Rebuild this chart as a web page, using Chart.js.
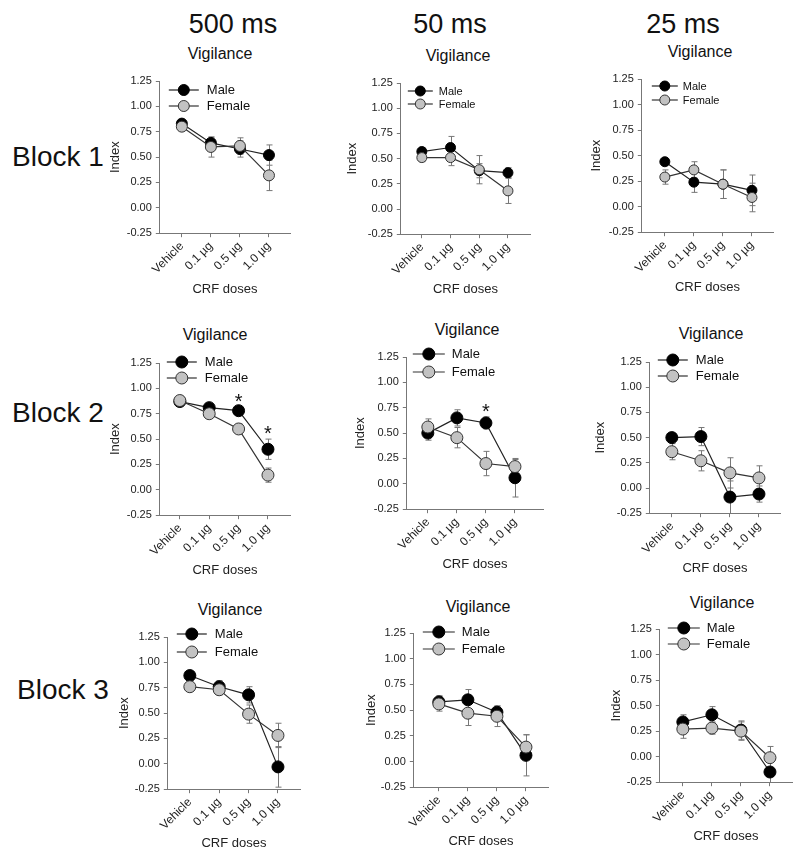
<!DOCTYPE html>
<html>
<head>
<meta charset="utf-8">
<script src="https://cdn.jsdelivr.net/npm/chart.js@4.4.0/dist/chart.umd.min.js"></script>
<style>
  body { margin: 0; background: #fff; }
  #fig { position: relative; width: 800px; height: 861px; font-family: Arial, "Liberation Sans", sans-serif; color: #111; }
  .lbl { position: absolute; white-space: nowrap; transform: translate(-50%, -50%); }
  .blk { position: absolute; white-space: nowrap; transform: translateY(-50%); font-size: 28px; }
  canvas { position: absolute; }
</style>
</head>
<body>
<div id="fig"></div>
<script>
// --- labels ---
const doses = ['Vehicle', '0.1 µg', '0.5 µg', '1.0 µg'];
const yTicks = [-0.25, 0, 0.25, 0.5, 0.75, 1.0, 1.25];
const intervals = ['500 ms', '50 ms', '25 ms'];
const blocks = ['Block 1', 'Block 2', 'Block 3'];
const panelTitle = 'Vigilance';
const xTitle = 'CRF doses';
const yTitle = 'Index';

// --- Block 1 ---
const b1_500_male = [0.83, 0.64, 0.58, 0.52];
const b1_500_maleSem = [0.02, 0.05, 0.08, 0.10];
const b1_500_female = [0.80, 0.60, 0.61, 0.32];
const b1_500_femaleSem = [0.02, 0.10, 0.08, 0.15];

const b1_50_male = [0.57, 0.61, 0.38, 0.36];
const b1_50_maleSem = [0.04, 0.11, 0.07, 0.05];
const b1_50_female = [0.51, 0.51, 0.39, 0.18];
const b1_50_femaleSem = [0.04, 0.08, 0.14, 0.125];

const b1_25_male = [0.44, 0.24, 0.22, 0.16];
const b1_25_maleSem = [0.03, 0.10, 0.14, 0.15];
const b1_25_female = [0.29, 0.36, 0.22, 0.09];
const b1_25_femaleSem = [0.07, 0.08, 0.14, 0.14];

// --- Block 2 ---
const b2_500_male = [0.87, 0.81, 0.78, 0.40];
const b2_500_maleSem = [0.02, 0.03, 0.04, 0.10];
const b2_500_female = [0.88, 0.75, 0.60, 0.145];
const b2_500_femaleSem = [0.02, 0.04, 0.05, 0.07];
const b2_500_sig = [false, false, true, true];

const b2_50_male = [0.50, 0.65, 0.60, 0.06];
const b2_50_maleSem = [0.07, 0.08, 0.06, 0.19];
const b2_50_female = [0.56, 0.455, 0.20, 0.17];
const b2_50_femaleSem = [0.08, 0.10, 0.12, 0.07];
const b2_50_sig = [false, false, true, false];

const b2_25_male = [0.50, 0.51, -0.09, -0.06];
const b2_25_maleSem = [0.03, 0.09, 0.16, 0.08];
const b2_25_female = [0.36, 0.27, 0.15, 0.10];
const b2_25_femaleSem = [0.08, 0.10, 0.15, 0.12];

// --- Block 3 ---
const b3_500_male = [0.87, 0.76, 0.68, -0.03];
const b3_500_maleSem = [0.02, 0.06, 0.08, 0.20];
const b3_500_female = [0.76, 0.73, 0.49, 0.28];
const b3_500_femaleSem = [0.04, 0.05, 0.09, 0.12];

const b3_50_male = [0.58, 0.60, 0.48, 0.06];
const b3_50_maleSem = [0.06, 0.10, 0.06, 0.20];
const b3_50_female = [0.56, 0.47, 0.44, 0.14];
const b3_50_femaleSem = [0.07, 0.12, 0.10, 0.12];

const b3_25_male = [0.34, 0.41, 0.26, -0.15];
const b3_25_maleSem = [0.07, 0.08, 0.09, 0.10];
const b3_25_female = [0.27, 0.28, 0.25, -0.01];
const b3_25_femaleSem = [0.09, 0.06, 0.09, 0.11];

const panels = [
  [b1_500_male, b1_500_maleSem, b1_500_female, b1_500_femaleSem, null],
  [b1_50_male, b1_50_maleSem, b1_50_female, b1_50_femaleSem, null],
  [b1_25_male, b1_25_maleSem, b1_25_female, b1_25_femaleSem, null],
  [b2_500_male, b2_500_maleSem, b2_500_female, b2_500_femaleSem, b2_500_sig],
  [b2_50_male, b2_50_maleSem, b2_50_female, b2_50_femaleSem, b2_50_sig],
  [b2_25_male, b2_25_maleSem, b2_25_female, b2_25_femaleSem, null],
  [b3_500_male, b3_500_maleSem, b3_500_female, b3_500_femaleSem, null],
  [b3_50_male, b3_50_maleSem, b3_50_female, b3_50_femaleSem, null],
  [b3_25_male, b3_25_maleSem, b3_25_female, b3_25_femaleSem, null]
];

// pixel layout of every panel (plot box, first/last category, label spots, legend)
const boxes = [
  {L:160, R:290, T:81,  B:233, c0:182, c3:269, idx:116, crf:289, tx:220, ty:54,  r:5.5, lg:{dx:9, dy:9,  len:30, sp:16, gap:8, fs:13}},
  {L:401, R:530, T:83,  B:234, c0:422, c3:508, idx:353, crf:289, tx:458, ty:56,  r:5,   lg:{dx:7, dy:8,  len:25, sp:13, gap:6, fs:11}},
  {L:642, R:773, T:79,  B:232, c0:665, c3:752, idx:597, crf:287, tx:700, ty:52,  r:5,   lg:{dx:10,dy:7,  len:26, sp:14, gap:5, fs:11}},
  {L:160, R:290, T:363, B:515, c0:180, c3:268, idx:116, crf:570, tx:215, ty:335, r:6,   lg:{dx:7, dy:-1, len:30, sp:16, gap:8, fs:13}},
  {L:407, R:543, T:357, B:509, c0:428, c3:515, idx:361, crf:564, tx:467, ty:330, r:6,   lg:{dx:6, dy:-3, len:32, sp:18, gap:7, fs:13}},
  {L:650, R:780, T:362, B:513, c0:672, c3:759, idx:601, crf:568, tx:711, ty:334, r:6,   lg:{dx:8, dy:-2, len:30, sp:16, gap:8, fs:13}},
  {L:168, R:300, T:637, B:789, c0:190, c3:278, idx:125, crf:843, tx:230, ty:610, r:6,   lg:{dx:9, dy:-3, len:30, sp:18, gap:8, fs:13}},
  {L:414, R:548, T:633, B:787, c0:439, c3:526, idx:372, crf:841, tx:478, ty:607, r:6,   lg:{dx:9, dy:-1, len:32, sp:17, gap:7, fs:13}},
  {L:660, R:792, T:629, B:782, c0:683, c3:770, idx:617, crf:836, tx:722, ty:603, r:6,   lg:{dx:8, dy:-1, len:32, sp:16, gap:7, fs:13}}
];

const FONT = 'Arial, "Liberation Sans", sans-serif';
Chart.defaults.font.family = FONT;
const fig = document.getElementById('fig');

function addText(cls, txt, x, y, size) {
  const d = document.createElement('div');
  d.className = cls;
  d.textContent = txt;
  d.style.left = x + 'px';
  d.style.top = y + 'px';
  if (size) d.style.fontSize = size + 'px';
  fig.appendChild(d);
}

// column headers and row labels
[233, 450, 683].forEach((x, i) => addText('lbl', intervals[i], x, 24, 27));
[157, 413, 690].forEach((y, i) => addText('blk', blocks[i], i === 2 ? 17 : 12, y));

// error bars (drawn under the markers)
const errBars = {
  id: 'errBars',
  beforeDatasetsDraw(chart) {
    const {ctx, chartArea} = chart;
    const xs = chart.scales.x, ys = chart.scales.y;
    ctx.save();
    ctx.strokeStyle = '#777';
    ctx.lineWidth = 1;
    chart.data.datasets.forEach(ds => {
      ds.data.forEach((p, i) => {
        const e = ds.sem[i];
        const x = Math.round(xs.getPixelForValue(p.x)) + 0.5;
        const y1 = ys.getPixelForValue(p.y + e);
        const y2 = Math.min(ys.getPixelForValue(p.y - e), chartArea.bottom);
        ctx.beginPath();
        ctx.moveTo(x, y1); ctx.lineTo(x, y2);
        ctx.moveTo(x - 3, y1); ctx.lineTo(x + 3, y1);
        if (y2 < chartArea.bottom) { ctx.moveTo(x - 3, y2); ctx.lineTo(x + 3, y2); }
        ctx.stroke();
      });
    });
    ctx.restore();
  }
};

// legend inside the plot box, line + marker symbol
const insideLegend = {
  id: 'insideLegend',
  afterDatasetsDraw(chart, args, o) {
    const {ctx, chartArea} = chart;
    ctx.save();
    chart.data.datasets.forEach((ds, k) => {
      const y = chartArea.top + o.dy + k * o.sp;
      const x0 = chartArea.left + o.dx, x1 = x0 + o.len;
      ctx.strokeStyle = ds.borderColor;
      ctx.lineWidth = ds.borderWidth;
      ctx.beginPath(); ctx.moveTo(x0, y); ctx.lineTo(x1, y); ctx.stroke();
      ctx.beginPath();
      ctx.arc((x0 + x1) / 2, y, ds.pointRadius, 0, Math.PI * 2);
      ctx.fillStyle = ds.pointBackgroundColor; ctx.fill();
      ctx.strokeStyle = ds.pointBorderColor; ctx.lineWidth = 1; ctx.stroke();
      ctx.fillStyle = '#111';
      ctx.font = o.fs + 'px ' + FONT;
      ctx.textAlign = 'left';
      ctx.textBaseline = 'middle';
      ctx.fillText(ds.label, x1 + o.gap, y + 0.5);
    });
    ctx.restore();
  }
};

// significance asterisks above the male error bar
const stars = {
  id: 'stars',
  afterDatasetsDraw(chart, args, o) {
    if (!o.sig) return;
    const {ctx} = chart;
    const ds = chart.data.datasets[0];
    ctx.save();
    ctx.fillStyle = '#111';
    ctx.font = '20px ' + FONT;
    ctx.textAlign = 'center';
    ctx.textBaseline = 'alphabetic';
    o.sig.forEach((s, i) => {
      if (!s) return;
      const x = chart.scales.x.getPixelForValue(i);
      const top = chart.scales.y.getPixelForValue(ds.data[i].y + ds.sem[i]);
      ctx.fillText('*', x, top + 1);
    });
    ctx.restore();
  }
};

panels.forEach((p, n) => {
  const b = boxes[n];
  const [male, maleSem, female, femaleSem, sig] = p;
  const step = (b.c3 - b.c0) / 3;
  const xMin = -(b.c0 - b.L) / step;
  const xMax = 3 + (b.R - b.c3) / step;
  const yW = b.L - b.idx + 7.8;      // y scale box width
  const xH = b.crf + 7.8 - b.B;      // x scale box height
  const left = b.L - yW, top = b.T - 14;
  const w = b.R + 14 - left, h = b.B + xH + 2 - top;

  addText('lbl', panelTitle, b.tx, b.ty, 16);

  const cv = document.createElement('canvas');
  cv.width = Math.ceil(w); cv.height = Math.ceil(h);
  cv.style.left = left + 'px'; cv.style.top = top + 'px';
  fig.appendChild(cv);

  new Chart(cv, {
    type: 'line',
    data: {
      datasets: [
        {
          label: 'Male', order: 1,
          data: doses.map((d, i) => ({x: i, y: male[i]})), sem: maleSem,
          borderColor: '#222', borderWidth: 1.2,
          pointRadius: b.r, pointBackgroundColor: '#000', pointBorderColor: '#000', pointBorderWidth: 1,
          clip: false
        },
        {
          label: 'Female', order: 0,
          data: doses.map((d, i) => ({x: i, y: female[i]})), sem: femaleSem,
          borderColor: '#333', borderWidth: 1.2,
          pointRadius: b.r, pointBackgroundColor: '#c2c2c2', pointBorderColor: '#333', pointBorderWidth: 1,
          clip: false
        }
      ]
    },
    options: {
      responsive: false,
      animation: false,
      layout: { padding: { left: 0, top: 14, right: 14, bottom: 2 } },
      plugins: {
        legend: { display: false },
        tooltip: { enabled: false },
        insideLegend: b.lg,
        stars: { sig: sig }
      },
      scales: {
        x: {
          type: 'linear', min: xMin, max: xMax,
          afterBuildTicks: s => { s.ticks = doses.map((d, i) => ({value: i})); },
          afterFit: s => { s.height = xH; },
          ticks: {
            autoSkip: false, minRotation: 45, maxRotation: 45, padding: 2,
            color: '#222', font: { size: 12 },
            callback: v => doses[v]
          },
          grid: { drawOnChartArea: false, tickLength: 4, color: '#777' },
          border: { color: '#777', width: 1 },
          title: { display: true, text: xTitle, color: '#222', font: { size: 13 }, padding: 0 }
        },
        y: {
          min: -0.25, max: 1.25,
          afterBuildTicks: s => { s.ticks = yTicks.map(v => ({value: v})); },
          afterFit: s => { s.width = yW; },
          ticks: {
            padding: 4, color: '#222', font: { size: 11 },
            callback: v => v.toFixed(2)
          },
          grid: { drawOnChartArea: false, tickLength: 4, color: '#777' },
          border: { color: '#777', width: 1 },
          title: { display: true, text: yTitle, color: '#222', font: { size: 13 }, padding: 0 }
        }
      }
    },
    plugins: [errBars, insideLegend, stars]
  });
});
</script>
</body>
</html>
